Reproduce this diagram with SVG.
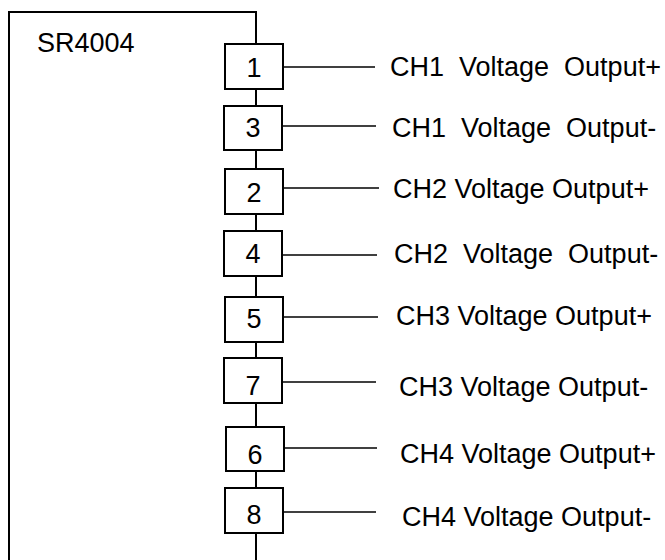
<svg xmlns="http://www.w3.org/2000/svg" width="665" height="560" viewBox="0 0 665 560" xml:space="preserve">
<style>
.box{fill:#fff;stroke:#000;stroke-width:2}
.ln{stroke:#000;stroke-width:1.5;fill:none}
.bus{stroke:#000;stroke-width:2;fill:none}
text{font-family:"Liberation Sans",Arial,sans-serif;font-size:27px;fill:#000;white-space:pre}
.d{text-anchor:middle}
</style>
<rect width="665" height="560" fill="#fff"/>
<g id="device">
<path class="bus" d="M9,561 V12 H256 V561"/>
<text x="37" y="52">SR4004</text>
</g>
<g id="connectors">
<line class="ln" x1="283" y1="67" x2="375" y2="67"/>
<line class="ln" x1="282" y1="126" x2="376" y2="126"/>
<line class="ln" x1="283" y1="188" x2="379" y2="188"/>
<line class="ln" x1="282" y1="255" x2="377" y2="255"/>
<line class="ln" x1="283" y1="317" x2="378" y2="317"/>
<line class="ln" x1="282" y1="382" x2="376" y2="382"/>
<line class="ln" x1="284" y1="448" x2="377" y2="448"/>
<line class="ln" x1="283" y1="512" x2="376" y2="512"/>
</g>
<g id="pin1"><rect class="box" x="225" y="44" width="58" height="45"/><text class="d" x="254" y="77">1</text><text x="390" y="76">CH1  Voltage  Output+</text></g>
<g id="pin3"><rect class="box" x="224" y="106" width="58" height="44"/><text class="d" x="253" y="137">3</text><text x="392" y="137">CH1  Voltage  Output-</text></g>
<g id="pin2"><rect class="box" x="225" y="169" width="58" height="45"/><text class="d" x="254" y="202">2</text><text x="393" y="198">CH2 Voltage Output+</text></g>
<g id="pin4"><rect class="box" x="224" y="231" width="58" height="45"/><text class="d" x="253" y="263">4</text><text x="394" y="263">CH2  Voltage  Output-</text></g>
<g id="pin5"><rect class="box" x="225" y="297" width="58" height="45"/><text class="d" x="254" y="328">5</text><text x="396" y="325">CH3 Voltage Output+</text></g>
<g id="pin7"><rect class="box" x="224" y="358" width="58" height="45"/><text class="d" x="253" y="395">7</text><text x="399" y="396">CH3 Voltage Output-</text></g>
<g id="pin6"><rect class="box" x="226" y="427" width="58" height="44"/><text class="d" x="255" y="464">6</text><text x="400" y="463">CH4 Voltage Output+</text></g>
<g id="pin8"><rect class="box" x="225" y="488" width="58" height="45"/><text class="d" x="254" y="524">8</text><text x="402" y="526">CH4 Voltage Output-</text></g>
</svg>
